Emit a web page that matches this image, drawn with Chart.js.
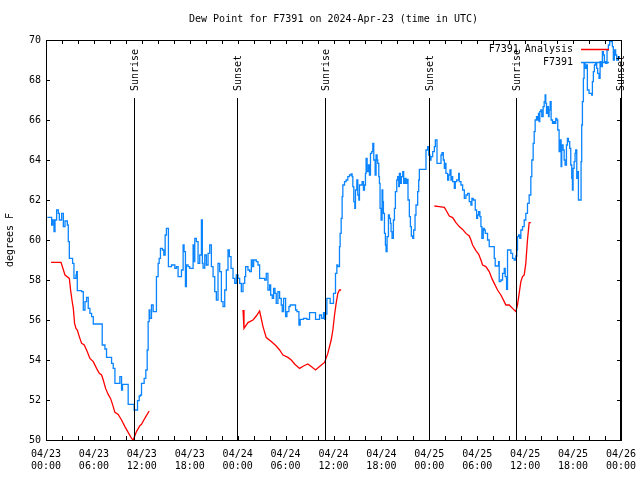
<!DOCTYPE html>
<html>
<head>
<meta charset="utf-8">
<script src="https://cdn.jsdelivr.net/npm/chart.js@4"></script>
<style>
  body { margin: 0; background: #fff; }
  canvas { display: block; }
</style>
</head>
<body>
<canvas id="chart" width="640" height="480"></canvas>
<script>
// hours since 2024-04-23 00:00 UTC
const obsHours = [0.17, 0.71, 0.83, 1.0, 1.13, 1.33, 1.54, 1.67, 1.83, 1.96, 2.17, 2.38, 2.67, 2.79, 2.92, 3.21, 3.33, 3.5, 3.75, 3.83, 3.92, 4.46, 4.67, 4.88, 5.08, 5.29, 5.5, 5.71, 5.92, 6.96, 7.04, 7.38, 7.58, 8.08, 8.21, 8.42, 8.63, 9.04, 9.25, 9.46, 9.58, 10.08, 10.29, 10.83, 11.04, 11.33, 11.46, 11.67, 11.83, 11.96, 12.29, 12.5, 12.67, 12.79, 12.92, 13.0, 13.21, 13.42, 13.75, 13.83, 14.04, 14.17, 14.33, 14.58, 14.75, 14.92, 15.08, 15.21, 15.33, 15.71, 16.13, 16.33, 16.54, 16.75, 16.96, 17.17, 17.29, 17.46, 17.58, 17.79, 18.0, 18.42, 18.5, 18.63, 18.83, 19.04, 19.25, 19.46, 19.58, 19.67, 19.88, 20.08, 20.29, 20.5, 20.71, 20.92, 21.13, 21.33, 21.54, 21.75, 21.96, 22.17, 22.38, 22.58, 22.79, 22.96, 23.17, 23.42, 23.63, 23.83,
  24.04, 24.25, 24.46, 24.67, 24.88, 25.0, 25.29, 25.5, 25.71, 25.83, 26.0, 26.33, 26.54, 26.75, 27.38, 27.58, 27.79, 28.0, 28.13, 28.33, 28.5, 28.67, 28.83, 29.04, 29.25, 29.46, 29.58, 29.75, 30.0, 30.17, 30.42, 30.58, 31.0, 31.25, 31.42, 31.67, 31.83, 32.25, 32.67, 33.0, 33.5, 33.75, 34.25, 34.5, 34.75, 34.88, 35.0, 35.17, 35.58, 35.83, 36.0, 36.25, 36.42,
  36.54, 36.75, 36.83, 36.96, 37.08, 37.17, 37.38, 37.58, 37.79, 38.0, 38.21, 38.33, 38.42, 38.54, 38.67, 38.75, 38.92, 39.04, 39.17, 39.25, 39.46, 39.58, 39.75, 39.88, 40.0, 40.08, 40.21, 40.38, 40.5, 40.63, 40.79, 40.92, 41.04, 41.21, 41.33, 41.46, 41.54, 41.67, 41.75, 41.83, 41.96, 42.08, 42.17, 42.25, 42.38, 42.5, 42.58, 42.71, 42.88, 43.0, 43.13, 43.21, 43.33, 43.5, 43.63, 43.75, 43.92, 44.04, 44.17, 44.25, 44.38, 44.5, 44.67, 44.79, 44.96, 45.08, 45.21, 45.33, 45.5, 45.63, 45.75, 45.92, 46.04, 46.21, 46.33, 46.54, 46.67,
  46.75, 47.58, 47.79, 47.92, 48.08, 48.21, 48.42, 48.63, 48.75, 48.92, 48.96, 49.25, 49.46, 49.58, 49.75, 49.88, 50.0, 50.08, 50.29, 50.42, 50.58, 50.71, 50.83, 50.92, 51.13, 51.25, 51.42, 51.67, 51.75, 51.96, 52.17, 52.38, 52.58, 52.79, 53.0, 53.21, 53.33, 53.5, 53.75, 53.92, 54.04, 54.17, 54.33, 54.46, 54.58, 54.75, 54.88, 55.0, 55.29, 55.5, 55.92, 56.13, 56.25, 56.54, 56.67, 56.75, 56.96, 57.17, 57.38, 57.5, 57.67, 57.79, 58.0, 58.21, 58.42, 58.63, 58.83, 58.96, 59.04, 59.17, 59.33, 59.46, 59.67, 59.88, 60.08, 60.29, 60.5, 60.71,
  60.83, 61.0, 61.13, 61.25, 61.42, 61.54, 61.67, 61.75, 61.83, 61.96, 62.08, 62.25, 62.38, 62.5, 62.58, 62.67, 62.79, 62.92, 63.0, 63.13, 63.25, 63.42, 63.54, 63.67, 63.83, 63.96, 64.08, 64.25, 64.38, 64.5, 64.58, 64.75, 64.88, 65.0, 65.17, 65.29, 65.42, 65.58, 65.71, 65.83, 65.92, 66.0, 66.13, 66.25, 66.33, 66.46, 66.58, 66.67, 66.92, 67.0, 67.08, 67.17, 67.29, 67.38, 67.5, 67.67, 67.79, 68.0, 68.33, 68.42, 68.54, 68.67, 68.83, 68.96, 69.08, 69.25, 69.38, 69.5, 69.67, 69.79, 69.92, 70.08, 70.25, 70.42, 70.58, 70.75, 70.92, 71.04, 71.17, 71.33, 71.46, 71.67, 71.79];
const obsValues = [61.13, 60.75, 61.0, 60.42, 61.0, 61.5, 61.33, 61.0, 61.0, 61.33, 60.67, 60.95, 60.75, 59.92, 59.08, 59.08, 58.83, 58.08, 58.25, 58.42, 57.47, 57.42, 56.5, 56.92, 57.13, 56.58, 56.33, 56.17, 55.8, 55.8, 54.75, 54.55, 54.13, 54.13, 53.83, 53.58, 52.83, 52.83, 53.17, 52.5, 52.78, 52.78, 51.78, 51.78, 51.5, 51.5, 51.97, 52.2, 52.25, 52.83, 53.08, 53.5, 54.5, 55.92, 56.5, 56.08, 56.75, 56.42, 56.42, 58.17, 58.83, 59.08, 59.58, 59.5, 59.25, 60.25, 60.58, 60.58, 58.67, 58.75, 58.58, 58.67, 58.17, 58.17, 58.5, 59.75, 59.42, 57.67, 58.75, 58.67, 58.58, 59.75, 58.92, 60.08, 59.92, 58.83, 59.25, 61.0, 58.83, 58.6, 59.25, 58.75, 59.33, 59.75, 58.67, 58.17, 57.42, 57.0, 58.83, 58.42, 56.92, 56.67, 57.5, 58.5, 59.5, 59.17, 58.58, 58.08, 57.83, 58.25,
  58.08, 57.83, 57.42, 57.83, 58.17, 58.67, 58.5, 58.42, 59.0, 58.67, 59.0, 58.92, 58.75, 58.08, 58.0, 58.33, 57.5, 57.75, 57.25, 57.08, 57.58, 57.33, 56.83, 57.42, 57.08, 56.75, 56.42, 57.08, 56.17, 56.42, 56.67, 56.75, 56.75, 56.5, 56.42, 55.75, 56.03, 56.08, 56.03, 56.37, 56.37, 56.03, 56.25, 56.08, 56.37, 56.03, 56.3, 57.08, 56.83, 56.83, 57.33, 58.33, 58.75,
  58.67, 59.67, 60.33, 61.08, 62.17, 62.75, 62.92, 63.0, 63.17, 63.25, 63.3, 63.17, 62.67, 61.92, 61.58, 62.5, 63.0, 62.25, 62.0, 62.75, 62.75, 62.92, 62.5, 62.75, 63.33, 64.08, 63.42, 63.75, 63.25, 64.33, 64.42, 64.83, 64.0, 63.25, 64.25, 64.0, 63.83, 63.17, 62.83, 61.58, 61.0, 62.5, 61.92, 61.33, 60.33, 59.75, 59.42, 60.17, 61.25, 61.08, 60.83, 60.42, 60.08, 61.0, 61.58, 62.42, 63.0, 63.17, 62.67, 63.33, 62.83, 63.17, 63.42, 62.83, 63.08, 62.83, 63.03, 62.0, 61.17, 60.67, 60.2, 60.08, 60.5, 61.25, 61.75, 62.42, 63.0,
  63.53, 64.5, 64.67, 64.25, 64.0, 64.17, 64.42, 64.67, 65.0, 65.0, 63.83, 63.83, 64.25, 64.37, 64.0, 63.58, 63.83, 63.33, 63.0, 63.25, 63.5, 63.0, 63.17, 62.92, 62.58, 62.92, 63.0, 63.33, 62.92, 62.75, 62.5, 62.08, 62.25, 62.33, 61.92, 61.75, 62.08, 62.0, 61.5, 61.08, 61.25, 61.42, 61.17, 60.67, 60.08, 60.58, 60.5, 60.33, 60.0, 59.67, 59.67, 59.08, 58.7, 58.7, 58.92, 57.92, 58.0, 58.33, 58.58, 58.17, 57.53, 59.5, 59.5, 59.33, 59.08, 59.0, 59.2, 59.5, 60.17, 60.25, 60.08, 60.5, 60.67, 61.0, 61.33, 61.83, 62.25, 63.17,
  64.0, 64.83, 65.42, 66.0, 66.17, 66.0, 66.33, 65.92, 66.42, 66.5, 66.17, 66.67, 66.92, 67.25, 66.83, 66.33, 66.67, 66.17, 66.5, 66.92, 66.0, 65.83, 65.92, 65.83, 66.08, 66.0, 65.5, 64.42, 65.0, 63.67, 64.75, 64.5, 64.0, 63.75, 64.75, 65.08, 64.92, 64.58, 63.75, 63.08, 62.5, 63.58, 63.92, 64.33, 64.5, 63.08, 63.42, 62.0, 62.0, 63.92, 65.75, 66.92, 68.08, 68.83, 68.58, 68.75, 67.5, 67.33, 67.25, 67.92, 68.42, 68.75, 68.83, 68.58, 68.33, 68.08, 68.92, 68.67, 69.42, 69.25, 68.92, 68.83, 69.5, 69.75, 70.0, 69.92, 69.67, 69.0, 69.5, 69.25, 69.0, 69.17, 69.08];

// analysis series, null = gap
const anaHours = [0.63, 1.88, 2.38, 2.92, 3.08, 3.25, 3.42, 3.58, 3.75, 3.92, 4.17, 4.46, 4.79, 5.08, 5.5, 5.92, 6.33, 6.67, 6.96, 7.17, 7.46, 7.79, 8.08, 8.33, 8.63, 9.04, 9.46, 9.88, 10.29, 10.71, 10.92, 11.33, 11.75, 11.96, 12.25, 12.5, 12.92,
  18.0,
  24.67, 24.79, 25.29, 25.92, 26.33, 26.75, 27.17, 27.58, 28.21, 28.83, 29.25, 29.67, 30.29, 30.71, 31.13, 31.75, 32.25, 32.79, 33.21, 33.75, 34.25, 34.88, 35.29, 35.71, 35.92, 36.13, 36.33, 36.54, 36.75, 36.96,
  42.0,
  48.63, 49.25, 49.88, 50.08, 50.5, 50.92, 51.33, 51.75, 52.17, 52.58, 53.0, 53.21, 53.42, 53.83, 54.17, 54.46, 54.67, 55.08, 55.5, 55.83, 56.13, 56.54, 56.96, 57.38, 57.58, 58.0, 58.42, 58.83, 59.04, 59.25, 59.46, 59.67, 59.88, 60.08, 60.29, 60.5, 60.71];
const anaValues = [58.88, 58.88, 58.25, 58.08, 57.5, 57.0, 56.58, 55.83, 55.58, 55.5, 55.17, 54.83, 54.75, 54.5, 54.08, 53.92, 53.58, 53.33, 53.25, 53.0, 52.58, 52.28, 52.08, 51.78, 51.38, 51.28, 51.0, 50.67, 50.38, 50.08, 50.0, 50.42, 50.72, 50.78, 51.0, 51.17, 51.45,
  null,
  56.5, 55.58, 55.87, 56.0, 56.2, 56.45, 55.67, 55.12, 54.92, 54.7, 54.5, 54.25, 54.13, 54.0, 53.8, 53.58, 53.7, 53.8, 53.67, 53.5, 53.67, 53.88, 54.33, 55.0, 55.5, 56.25, 56.83, 57.33, 57.5, 57.5,
  null,
  61.7, 61.67, 61.63, 61.5, 61.2, 61.12, 60.87, 60.67, 60.53, 60.33, 60.2, 60.0, 59.75, 59.47, 59.3, 59.0, 58.75, 58.67, 58.42, 58.08, 57.83, 57.5, 57.25, 56.92, 56.75, 56.75, 56.58, 56.42, 56.75, 57.33, 57.92, 58.17, 58.25, 58.83, 60.0, 60.87, 60.87];

const eventHours = [11.0, 23.9, 34.9, 47.9, 58.9, 71.9];
const eventLabels = ['Sunrise', 'Sunset', 'Sunrise', 'Sunset', 'Sunrise', 'Sunset'];

const xTickHours = [0, 6, 12, 18, 24, 30, 36, 42, 48, 54, 60, 66, 72];
const xTickDates = ['04/23', '04/23', '04/23', '04/23', '04/24', '04/24', '04/24', '04/24', '04/25', '04/25', '04/25', '04/25', '04/26'];
const xTickTimes = ['00:00', '06:00', '12:00', '18:00', '00:00', '06:00', '12:00', '18:00', '00:00', '06:00', '12:00', '18:00', '00:00'];

const titleText = 'Dew Point for F7391 on 2024-Apr-23 (time in UTC)';
const yTitle = 'degrees F';

const FONT = { family: '"DejaVu Sans Mono", monospace', size: 10 };
const BLUE = '#0a84ff';
const RED = '#ff0000';

const obsPts = obsHours.map((h, i) => ({ x: h, y: obsValues[i] }));
const anaPts = anaHours.map((h, i) => ({ x: h, y: anaValues[i] }));

// frame, inward ticks, sun lines, title and legend (gnuplot look)
const decor = {
    id: 'decor',
    afterDraw(chart) {
        const c = chart.ctx;
        const a = chart.chartArea;
        const xs = chart.scales.x, ys = chart.scales.y;
        c.save();
        c.strokeStyle = '#000';
        c.lineWidth = 1;
        c.strokeRect(Math.round(a.left) + 0.5, Math.round(a.top) + 0.5,
                     Math.round(a.right - a.left), Math.round(a.bottom - a.top));

        c.beginPath();
        for (let h = 2; h < 72; h += 2) {
            const px = Math.round(xs.getPixelForValue(h)) + 0.5;
            c.moveTo(px, a.bottom); c.lineTo(px, a.bottom - 4);
            c.moveTo(px, a.top); c.lineTo(px, a.top + 4);
        }
        for (let v = 52; v < 70; v += 2) {
            const py = Math.round(ys.getPixelForValue(v)) + 0.5;
            c.moveTo(a.left, py); c.lineTo(a.left + 4, py);
            c.moveTo(a.right, py); c.lineTo(a.right - 4, py);
        }
        c.stroke();

        c.font = '10px "DejaVu Sans Mono", monospace';
        c.fillStyle = '#000';
        eventHours.forEach((h, i) => {
            const px = Math.round(xs.getPixelForValue(h)) + 0.5;
            c.beginPath();
            c.moveTo(px, 98); c.lineTo(px, a.bottom);
            c.stroke();
            c.save();
            c.translate(px + 1, 91);
            c.rotate(-Math.PI / 2);
            c.textAlign = 'left';
            c.textBaseline = 'middle';
            c.fillText(eventLabels[i], 0, 0);
            c.restore();
        });

        c.textAlign = 'center';
        c.textBaseline = 'middle';
        c.fillText(titleText, (a.left + a.right) / 2, 19);

        c.save();
        c.translate(10, (a.top + a.bottom) / 2);
        c.rotate(-Math.PI / 2);
        c.fillText(yTitle, 0, 0);
        c.restore();

        // legend
        const sets = chart.data.datasets;
        c.textAlign = 'right';
        sets.forEach((ds, i) => {
            const ly = 49 + i * 13;
            c.fillStyle = '#000';
            c.fillText(ds.label, 573, ly);
            c.strokeStyle = ds.borderColor;
            c.lineWidth = 1.5;
            c.beginPath();
            c.moveTo(581, ly + 0.5); c.lineTo(609, ly + 0.5);
            c.stroke();
        });
        c.restore();
    }
};

new Chart(document.getElementById('chart'), {
    type: 'line',
    data: {
        datasets: [
            { label: 'F7391 Analysis', data: anaPts, borderColor: RED, borderWidth: 1.3,
              pointRadius: 0, spanGaps: false, tension: 0 },
            { label: 'F7391', data: obsPts, borderColor: BLUE, borderWidth: 1.3,
              pointRadius: 0, stepped: true }
        ]
    },
    options: {
        responsive: false,
        animation: false,
        events: [],
        layout: { padding: { top: 40, right: 19, left: 0, bottom: 0 } },
        plugins: { legend: { display: false }, title: { display: false }, tooltip: { enabled: false } },
        scales: {
            x: {
                type: 'linear', min: 0, max: 72,
                afterBuildTicks: s => { s.ticks = xTickHours.map(v => ({ value: v })); },
                ticks: {
                    callback: (v, i) => [xTickDates[i], xTickTimes[i]],
                    font: FONT, color: '#000', padding: 8, maxRotation: 0, autoSkip: false
                },
                grid: { display: false, drawTicks: false },
                border: { display: false },
                afterFit: s => { s.height = 40; s.paddingLeft = 0; s.paddingRight = 0; }
            },
            y: {
                min: 50, max: 70,
                ticks: { stepSize: 2, font: FONT, color: '#000', padding: 5 },
                grid: { display: false, drawTicks: false },
                border: { display: false },
                afterFit: s => { s.width = 46; s.paddingTop = 0; s.paddingBottom = 0; }
            }
        }
    },
    plugins: [decor]
});
</script>
</body>
</html>
